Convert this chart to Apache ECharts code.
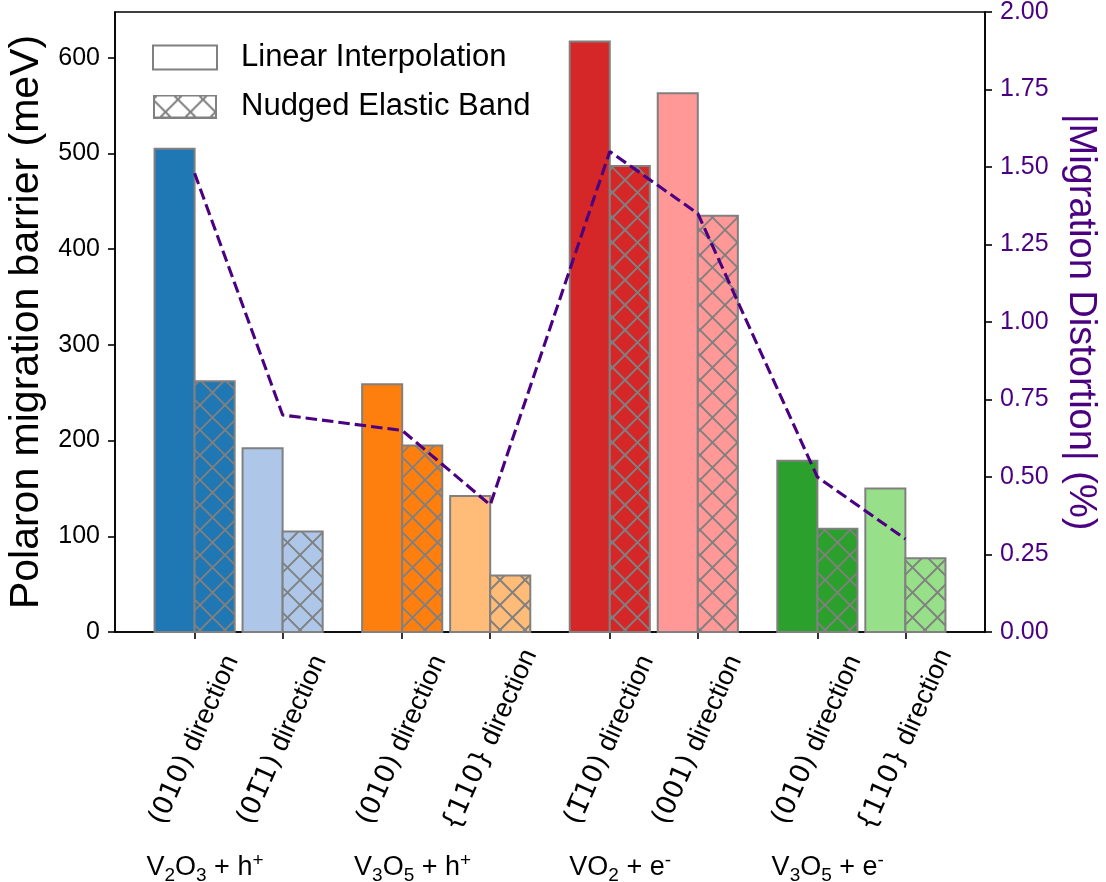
<!DOCTYPE html>
<html><head><meta charset="utf-8">
<script src="https://cdn.jsdelivr.net/npm/echarts@6/dist/echarts.min.js"></script>
<style>html,body{margin:0;padding:0;background:#fff}#c{width:1106px;height:882px}</style>
</head><body><div id="c"></div>
<script>
// ---- data ----
const groups = ['V_2O_3 + h^+', 'V_3O_5 + h^+', 'VO_2 + e^-', 'V_3O_5 + e^-'];
const directions = ['(010) direction', '(01\u03051) direction', '(010) direction', '{110} direction',
                    '(1\u030510) direction', '(001) direction', '(010) direction', '{110} direction'];
const linearInterp = [505, 192, 259, 142, 617, 563, 179, 150];
const nudgedElastic = [262, 105, 195, 59, 487, 435, 108, 77];
const distortion = [1.48, 0.70, 0.65, 0.41, 1.55, 1.35, 0.50, 0.30];
const barColors = ['#1f77b4', '#aec7e8', '#ff7f0e', '#ffbb78', '#d62728', '#ff9896', '#2ca02c', '#98df8a'];
const leftTicks = [0, 100, 200, 300, 400, 500, 600];
const rightTicks = [0, 0.25, 0.5, 0.75, 1.0, 1.25, 1.5, 1.75, 2.0];

// ---- layout helpers ----
const PAIR_OFFSET = 0.424, BAR_W = 0.193;
const positions = directions.map((d, i) => Math.floor(i / 2) + (i % 2) * PAIR_OFFSET);
const groupPos = groups.map((g, i) => i + 0.05);
const lo = positions[0] - BAR_W, hi = positions[positions.length - 1] + BAR_W;
const xMin = lo - 0.05 * (hi - lo), xMax = hi + 0.05 * (hi - lo);
const leftMax = Math.max(...linearInterp) * 1.05;
const EDGE = '#808080', PURPLE = '#4b0082';
const HP = 25, HOFF = 5, HLW = 1.9;   // hatch period, phase, line width (px)

// diagonal cross-hatch segments clipped to a pixel rectangle
function hatchSegments(x0, y0, x1, y1) {
  const segs = [];
  const cA0 = Math.ceil((y0 - x1 - HOFF) / HP), cA1 = Math.floor((y1 - x0 - HOFF) / HP);
  for (let k = cA0; k <= cA1; k++) {
    const c = k * HP + HOFF;               // y = x + c
    const xa = Math.max(x0, y0 - c), xb = Math.min(x1, y1 - c);
    if (xb > xa) segs.push([xa, xa + c, xb, xb + c]);
  }
  const cB0 = Math.ceil((x0 + y0 - HOFF) / HP), cB1 = Math.floor((x1 + y1 - HOFF) / HP);
  for (let k = cB0; k <= cB1; k++) {
    const c = k * HP + HOFF;               // y = c - x
    const xa = Math.max(x0, c - y1), xb = Math.min(x1, c - y0);
    if (xb > xa) segs.push([xa, c - xa, xb, c - xb]);
  }
  return segs;
}

function legendHatchIcon(w, h) {
  const c = document.createElement('canvas');
  c.width = w; c.height = h;
  const ctx = c.getContext('2d');
  ctx.fillStyle = '#fff'; ctx.fillRect(0, 0, w, h);
  ctx.strokeStyle = EDGE; ctx.lineWidth = HLW;
  hatchSegments(1, 1, w - 1, h - 1).forEach(s => { ctx.beginPath(); ctx.moveTo(s[0], s[1]); ctx.lineTo(s[2], s[3]); ctx.stroke(); });
  ctx.lineWidth = 2; ctx.strokeRect(1, 1, w - 2, h - 2);
  return 'image://' + c.toDataURL();
}

function toRich(str) {
  let out = '', buf = '';
  for (let i = 0; i < str.length; i++) {
    const ch = str[i];
    if ((ch === '_' || ch === '^') && i + 1 < str.length) {
      if (buf) { out += '{t|' + buf + '}'; buf = ''; }
      out += (ch === '_' ? '{s|' : '{p|') + str[i + 1] + '}';
      i++;
    } else buf += ch;
  }
  if (buf) out += '{t|' + buf + '}';
  return out;
}
function nearestIdx(arr, v) {
  let b = 0; arr.forEach((p, i) => { if (Math.abs(p - v) < Math.abs(arr[b] - v)) b = i; });
  return b;
}
function barRenderer(side) {
  return function (params, api) {
    const x = api.value(0), v = api.value(1), i = params.dataIndex;
    const x0 = side < 0 ? x - BAR_W : x, x1 = side < 0 ? x : x + BAR_W;
    const p0 = api.coord([x0, v]), p1 = api.coord([x1, 0]);
    const rx = p0[0], ry = p0[1], rw = p1[0] - p0[0], rh = p1[1] - p0[1];
    const children = [{ type: 'rect', shape: { x: rx, y: ry, width: rw, height: rh }, style: { fill: barColors[i] } }];
    if (side > 0) {
      hatchSegments(rx, ry, rx + rw, ry + rh).forEach(s => children.push({
        type: 'line', shape: { x1: s[0], y1: s[1], x2: s[2], y2: s[3] }, style: { stroke: EDGE, lineWidth: HLW }
      }));
    }
    children.push({ type: 'rect', shape: { x: rx, y: ry, width: rw, height: rh }, style: { fill: 'none', stroke: EDGE, lineWidth: 2 } });
    return { type: 'group', children };
  };
}
const axisLineStyle = { show: true, onZero: false, lineStyle: { color: '#000', width: 1.6 } };

const chart = echarts.init(document.getElementById('c'));
chart.setOption({
  animation: false,
  backgroundColor: '#fff',
  grid: { left: 115, right: 121, top: 12, bottom: 250, containLabel: false, outerBoundsMode: 'none',
          show: true, borderColor: '#000', borderWidth: 1.6, backgroundColor: 'transparent' },
  legend: {
    orient: 'vertical', left: 152, top: 42, padding: 0, itemWidth: 64, itemHeight: 24, itemGap: 18,
    selectedMode: false,
    textStyle: { fontSize: 31, fontFamily: 'Liberation Sans', color: '#000', padding: [0, 0, 0, 19] },
    data: [
      { name: 'Linear Interpolation', icon: 'rect', itemStyle: { color: '#fff', borderColor: EDGE, borderWidth: 2 } },
      { name: 'Nudged Elastic Band', icon: legendHatchIcon(64, 24) }
    ]
  },
  xAxis: [
    {
      type: 'value', min: xMin, max: xMax, position: 'bottom',
      axisLine: axisLineStyle,
      axisTick: { show: true, customValues: positions, length: 7, lineStyle: { color: '#000', width: 1.6 } },
      splitLine: { show: false },
      axisLabel: {
        customValues: positions, rotate: 66, align: 'center', verticalAlign: 'middle', margin: 108,
        fontFamily: 'DejaVu Sans', fontSize: 27, color: '#000',
        formatter: v => {
          const s = directions[nearestIdx(positions, v)];
          const k = s.indexOf(' ');
          return s.slice(0, k) + '{d|' + s.slice(k) + '}';
        },
        rich: { d: { fontFamily: 'Liberation Sans', fontSize: 27, color: '#000' } }
      }
    },
    {
      type: 'value', min: xMin, max: xMax, position: 'bottom',
      axisLine: { show: false }, axisTick: { show: false }, splitLine: { show: false },
      axisLabel: {
        customValues: groupPos, margin: 236, verticalAlign: 'middle', align: 'center',
        formatter: v => toRich(groups[nearestIdx(groupPos, v)]),
        rich: {
          t: { fontFamily: 'Liberation Sans', fontSize: 27, color: '#000', lineHeight: 34 },
          s: { fontFamily: 'Liberation Sans', fontSize: 19, color: '#000', lineHeight: 19, verticalAlign: 'bottom' },
          p: { fontFamily: 'Liberation Sans', fontSize: 19, color: '#000', lineHeight: 19, verticalAlign: 'top' }
        }
      }
    }
  ],
  yAxis: [
    {
      type: 'value', min: 0, max: leftMax, position: 'left',
      axisLine: axisLineStyle,
      axisTick: { show: true, customValues: leftTicks, length: 7, lineStyle: { color: '#000', width: 1.6 } },
      splitLine: { show: false },
      axisLabel: { customValues: leftTicks, fontSize: 25, fontFamily: 'Liberation Sans', color: '#000', margin: 15 },
      name: 'Polaron migration barrier (meV)', nameLocation: 'middle', nameRotate: 90, nameGap: 68,
      nameTextStyle: { fontSize: 41, fontFamily: 'Liberation Sans', color: '#000' }
    },
    {
      type: 'value', min: 0, max: 2, position: 'right',
      axisLine: axisLineStyle,
      axisTick: { show: true, customValues: rightTicks, length: 7, lineStyle: { color: '#000', width: 1.6 } },
      splitLine: { show: false },
      axisLabel: { customValues: rightTicks, fontSize: 25, fontFamily: 'Liberation Sans', color: PURPLE, margin: 15,
        formatter: v => v.toFixed(2) },
      name: '|Migration Distortion| (%)', nameLocation: 'middle', nameRotate: -90, nameGap: 76,
      nameTextStyle: { fontSize: 38, fontFamily: 'Liberation Sans', color: PURPLE }
    }
  ],
  series: [
    {
      name: 'Linear Interpolation', type: 'custom', xAxisIndex: 0, yAxisIndex: 0,
      renderItem: barRenderer(-1),
      data: positions.map((x, i) => [x, linearInterp[i]]), z: 2
    },
    {
      name: 'Nudged Elastic Band', type: 'custom', xAxisIndex: 0, yAxisIndex: 0,
      renderItem: barRenderer(1),
      data: positions.map((x, i) => [x, nudgedElastic[i]]), z: 2
    },
    {
      name: 'Distortion', type: 'line', xAxisIndex: 0, yAxisIndex: 1, symbol: 'none', z: 5,
      lineStyle: { color: PURPLE, width: 3.1, type: [11.5, 5] },
      data: positions.map((x, i) => [x, distortion[i]])
    }
  ]
});
</script></body></html>
